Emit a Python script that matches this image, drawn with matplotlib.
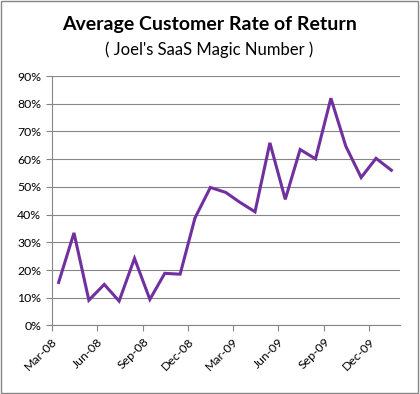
import datetime as dt
import matplotlib
matplotlib.use("Agg")
import matplotlib.pyplot as plt
import matplotlib.dates as mdates
from matplotlib.patches import Rectangle
from matplotlib.ticker import FuncFormatter, MultipleLocator

plt.rcParams['font.family'] = ['Lato', 'DejaVu Sans']

# monthly data, Mar-08 .. Jan-10 (plotted mid-month)
months = [(2008, m) for m in range(3, 13)] + [(2009, m) for m in range(1, 13)] + [(2010, 1)]
rate = [0.155, 0.334, 0.091, 0.148, 0.088, 0.242, 0.094, 0.188, 0.185, 0.388,
        0.498, 0.480, 0.445, 0.410, 0.659, 0.455, 0.635, 0.601, 0.820, 0.647,
        0.534, 0.603, 0.560]
dates = [dt.date(y, m, 15) for y, m in months]

grey = '#868686'

fig = plt.figure(figsize=(4.2, 3.94), dpi=100)
fig.patches.append(Rectangle((0.002, 0.003), 0.993, 0.994, transform=fig.transFigure,
                             fill=False, edgecolor=grey, linewidth=1))
ax = fig.add_axes([0.123, 0.174, 0.829, 0.633])

ax.plot(dates, rate, color='#7030A0', linewidth=2.2, solid_joinstyle='miter')

ax.set_ylim(0, 0.9)
ax.set_xlim(dt.date(2008, 3, 1), dt.date(2010, 2, 1))
ax.yaxis.set_major_locator(MultipleLocator(0.1))
ax.yaxis.set_major_formatter(FuncFormatter(lambda v, p: f"{round(v * 100)}%"))
ax.xaxis.set_major_locator(mdates.MonthLocator(bymonth=[3, 6, 9, 12]))
ax.xaxis.set_major_formatter(mdates.DateFormatter('%b-%y'))

ax.grid(axis='y', color=grey, linewidth=0.8)
ax.set_axisbelow(True)
for s in ['top', 'right']:
    ax.spines[s].set_visible(False)
for s in ['left', 'bottom']:
    ax.spines[s].set_color(grey)
    ax.spines[s].set_linewidth(0.8)
ax.tick_params(axis='both', color=grey, length=4, width=0.8, labelsize=8.8)
plt.setp(ax.get_xticklabels(), rotation=45, ha='right', rotation_mode='anchor')

fig.text(0.498, 0.937, 'Average Customer Rate of Return', ha='center', va='center',
         fontsize=14, fontweight='bold')
fig.text(0.498, 0.875, "( Joel's SaaS Magic Number )", ha='center', va='center',
         fontsize=12)

fig.savefig('out.png', dpi=100)
